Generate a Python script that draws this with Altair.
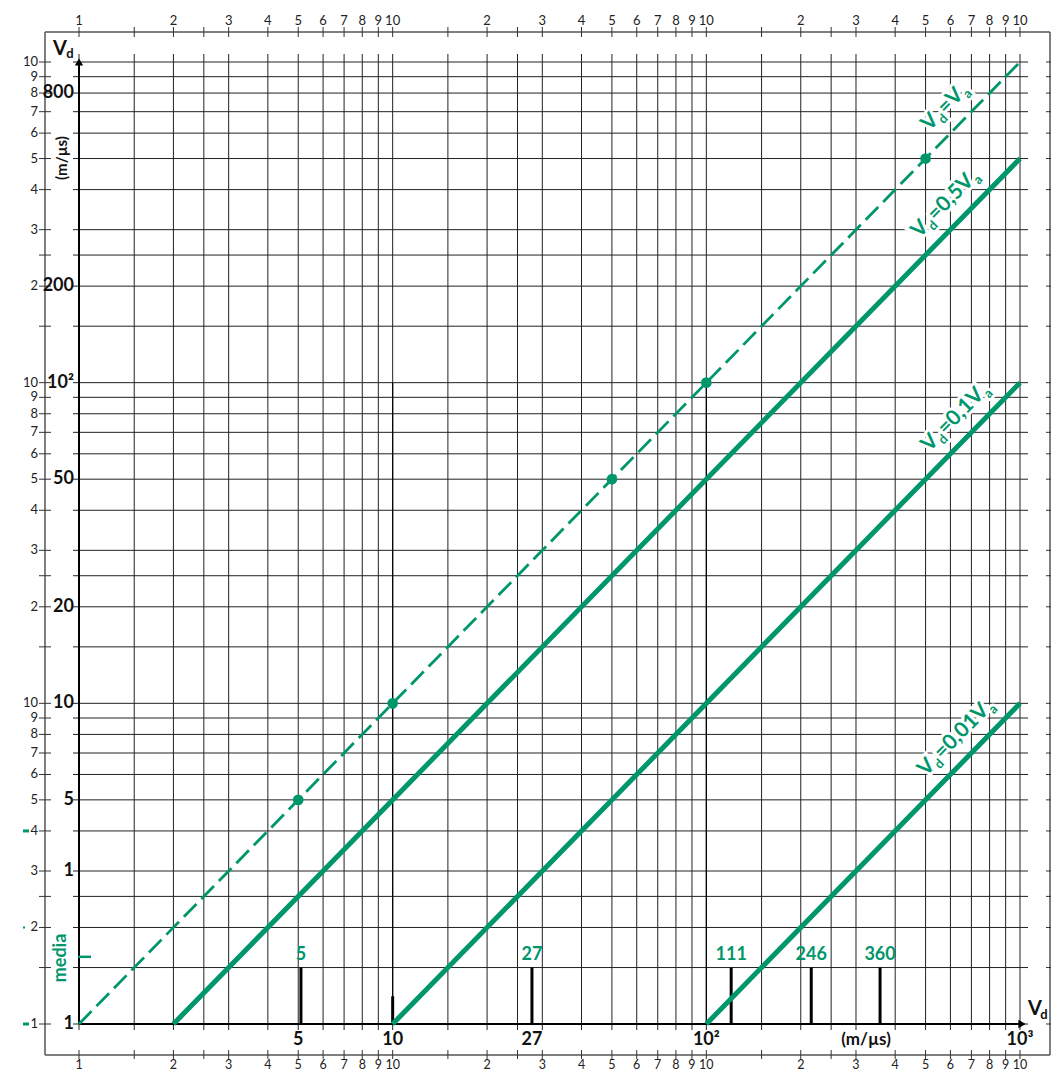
import math
import altair as alt
import pandas as pd

GREEN = "#00966c"
FONT = "Lato"

# ---------------- data ----------------
mantissas = [1, 1.5, 2, 2.5, 3, 4, 5, 6, 7, 8, 9]
grid_values = [m * 10 ** d for d in range(3) for m in mantissas] + [1000]
label_values = [m * 10 ** d for d in range(3) for m in range(1, 10)] + [1000]
label_texts = (["1"] + [str(m) for m in range(2, 10)]
               + (["10"] + [str(m) for m in range(2, 10)]) * 2 + ["10"])

ratios = [1, 0.5, 0.1, 0.01]
line_x_start = [1, 2, 10, 100]
line_x_end = [1000, 1000, 1000, 1000]

dot_x = [5, 10, 50, 100, 500]
dot_y = [5, 10, 50, 100, 500]

bar_x = [5.1, 10, 27.8, 120, 216, 358]
bar_top = [1.5, 1.22, 1.5, 1.5, 1.5, 1.5]
bar_label_x = [5.1, 27.8, 120, 216, 358]
bar_label_text = ["5", "27", "111", "246", "360"]

bold_y_values = [1, 3, 5, 10, 20, 50, 100, 200, 800]
bold_y_text = ["1", "1", "5", "10", "20", "50", "10²", "200", "800"]
bold_x_values = [5, 10, 27.8, 100, 1000]
bold_x_text = ["5", "10", "27", "10²", "10³"]

drop_x = [10, 100]
drop_top = [100, 100]

media_value = 1.62
green_dash_values = [4, 1]
green_dot_values = [2]

label_anchor_x = [560, 520, 560, 545]
label_mid_text = ["=V", "=0,5V", "=0,1V", "=0,01V"]

# ---------------- layout ----------------
W, H = 941, 962
xs = alt.Scale(type="log", domain=[1, 1000], nice=False)
ys = alt.Scale(type="log", domain=[1, 1000], nice=False)


def X(f):
    return alt.X(f"{f}:Q", scale=xs, axis=None)


def Y(f):
    return alt.Y(f"{f}:Q", scale=ys, axis=None)


one = pd.DataFrame({"a": [0]})
gdf = pd.DataFrame({"v": grid_values})
ldf = pd.DataFrame({"v": label_values, "t": label_texts})

layers = []
GRID = "#222222"
FRAME = "#555555"

# grid
layers.append(alt.Chart(gdf).mark_rule(color=GRID, strokeWidth=1).encode(
    x=X("v"), y=alt.value(-8), y2=alt.value(H + 6)))
layers.append(alt.Chart(gdf).mark_rule(color=GRID, strokeWidth=1).encode(
    y=Y("v"), x=alt.value(-6), x2=alt.value(W + 8)))

# frame
FL, FT, FR, FB = -34, -30, 971, 993
layers.append(alt.Chart(one).mark_rule(color=FRAME, strokeWidth=1.5).encode(
    x=alt.value(FL), y=alt.value(FT), y2=alt.value(FB)))
layers.append(alt.Chart(one).mark_rule(color=FRAME, strokeWidth=1.5).encode(
    x=alt.value(FR), y=alt.value(FT), y2=alt.value(FB)))
layers.append(alt.Chart(one).mark_rule(color=FRAME, strokeWidth=1.5).encode(
    y=alt.value(FT), x=alt.value(FL), x2=alt.value(FR)))
layers.append(alt.Chart(one).mark_rule(color=FRAME, strokeWidth=1.5).encode(
    y=alt.value(FB), x=alt.value(FL), x2=alt.value(FR)))

# frame ticks
layers.append(alt.Chart(gdf).mark_rule(color="#333", strokeWidth=1).encode(
    x=X("v"), y=alt.value(FT - 5), y2=alt.value(FT + 5)))
layers.append(alt.Chart(gdf).mark_rule(color="#333", strokeWidth=1).encode(
    x=X("v"), y=alt.value(FB - 5), y2=alt.value(FB + 4)))
layers.append(alt.Chart(gdf).mark_rule(color="#333", strokeWidth=1).encode(
    y=Y("v"), x=alt.value(FL - 6), x2=alt.value(FL + 6)))
layers.append(alt.Chart(gdf).mark_rule(color="#333", strokeWidth=1).encode(
    y=Y("v"), x=alt.value(FR - 4), x2=alt.value(FR + 1)))

# frame labels
layers.append(alt.Chart(ldf).mark_text(font=FONT, fontSize=13, color="#222", baseline="alphabetic").encode(
    x=X("v"), y=alt.value(FT - 7), text="t:N"))
layers.append(alt.Chart(ldf).mark_text(font=FONT, fontSize=12.5, color="#222", baseline="alphabetic").encode(
    x=X("v"), y=alt.value(FB + 14), text="t:N"))
layers.append(alt.Chart(ldf).mark_text(font=FONT, fontSize=13, color="#222", baseline="middle", align="right").encode(
    y=Y("v"), x=alt.value(FL - 7), text="t:N"))

# drop lines and bars
ddf = pd.DataFrame({"x": drop_x, "top": drop_top, "b": [1] * len(drop_x)})
layers.append(alt.Chart(ddf).mark_rule(color="black", strokeWidth=1.2).encode(
    x=X("x"), y=Y("top"), y2="b:Q"))
bdf = pd.DataFrame({"x": bar_x, "top": bar_top, "b": [1] * len(bar_x)})
layers.append(alt.Chart(bdf).mark_rule(color="black", strokeWidth=3).encode(
    x=X("x"), y=Y("top"), y2="b:Q"))

# axis arrows
layers.append(alt.Chart(one).mark_rule(color="black", strokeWidth=2).encode(
    x=alt.value(0), y=alt.value(H), y2=alt.value(-2)))
layers.append(alt.Chart(one).mark_point(shape="triangle-up", filled=True, size=70, color="black", opacity=1).encode(
    x=alt.value(0), y=alt.value(0)))
layers.append(alt.Chart(one).mark_rule(color="black", strokeWidth=2).encode(
    y=alt.value(H), x=alt.value(0), x2=alt.value(W + 2)))
layers.append(alt.Chart(one).mark_point(shape="triangle-right", filled=True, size=70, color="black", opacity=1).encode(
    x=alt.value(W + 2), y=alt.value(H)))

# ratio lines
rows = []
for r, xa, xb in zip(ratios, line_x_start, line_x_end):
    rows.append({"s": str(r), "x": xa, "y": r * xa, "o": 0})
    rows.append({"s": str(r), "x": xb, "y": r * xb, "o": 1})
rdf = pd.DataFrame(rows)
layers.append(alt.Chart(rdf[rdf.s != "1"]).mark_line(color=GREEN, strokeWidth=5, strokeCap="butt").encode(
    x=X("x"), y=Y("y"), detail="s:N", order="o:Q"))
layers.append(alt.Chart(rdf[rdf.s == "1"]).mark_line(color=GREEN, strokeWidth=2.8, strokeDash=[18, 7]).encode(
    x=X("x"), y=Y("y"), order="o:Q"))

layers.append(alt.Chart(pd.DataFrame({"x": dot_x, "y": dot_y})).mark_circle(size=115, color=GREEN, opacity=1).encode(
    x=X("x"), y=Y("y")))

# line labels
angle = 360 - math.degrees(math.atan((H / 3) / (W / 3)))
CW = {"V": 0.66, "d": 0.57, "a": 0.52, "=": 0.58, ",": 0.24}
MAIN, SUB = 21, 13
MAIN_DY, SUB_DY = -16, -11


def tw(s, size):
    return sum(CW.get(c, 0.58) for c in s) * size


for r, ax, mid in zip(ratios, label_anchor_x, label_mid_text):
    adf = pd.DataFrame({"x": [ax], "y": [r * ax]})
    pieces = [("V", False), ("d", True), (mid, False), ("a", True)]
    off = 0.0
    for txt, sub in pieces:
        size = SUB if sub else MAIN
        dy = SUB_DY if sub else MAIN_DY
        for halo in (True, False):
            kw = dict(font=FONT, fontSize=size, fontWeight="bold", align="left", baseline="alphabetic",
                      angle=angle, dx=off, dy=dy, text=txt)
            if halo:
                kw.update(color="white", stroke="white", strokeWidth=6)
            else:
                kw.update(color=GREEN)
            layers.append(alt.Chart(adf).mark_text(**kw).encode(x=X("x"), y=Y("y")))
        off += tw(txt, size) + 1

# green bar labels
layers.append(alt.Chart(pd.DataFrame({"x": bar_label_x, "t": bar_label_text})).mark_text(
    font=FONT, fontSize=18, fontWeight="bold", color=GREEN, baseline="middle").encode(
    x=X("x"), y=alt.value(893), text="t:N"))

# bold labels
layers.append(alt.Chart(pd.DataFrame({"x": bold_x_values, "t": bold_x_text})).mark_text(
    font=FONT, fontSize=18, fontWeight="bold", color="#111", baseline="middle").encode(
    x=X("x"), y=alt.value(978), text="t:N"))
layers.append(alt.Chart(pd.DataFrame({"y": bold_y_values, "t": bold_y_text})).mark_text(
    font=FONT, fontSize=18, fontWeight="bold", color="#111", baseline="middle", align="right").encode(
    y=Y("y"), x=alt.value(-5), text="t:N"))

# unit / axis titles
layers.append(alt.Chart(one).mark_text(font=FONT, fontSize=17, fontWeight="bold", color="#111",
                                       baseline="middle", text="(m/µs)").encode(
    x=alt.value(787), y=alt.value(978)))
layers.append(alt.Chart(one).mark_text(font=FONT, fontSize=15, fontWeight="bold", color="#111",
                                       baseline="middle", angle=270, text="(m/µs)").encode(
    x=alt.value(-17), y=alt.value(96)))
layers.append(alt.Chart(one).mark_text(font=FONT, fontSize=20, fontWeight="bold", color="#111",
                                       baseline="alphabetic", text="V").encode(
    x=alt.value(-19), y=alt.value(-7)))
layers.append(alt.Chart(one).mark_text(font=FONT, fontSize=13, fontWeight="bold", color="#111",
                                       baseline="alphabetic", text="d").encode(
    x=alt.value(-9), y=alt.value(-4)))
layers.append(alt.Chart(one).mark_text(font=FONT, fontSize=20, fontWeight="bold", color="#111",
                                       baseline="alphabetic", text="V").encode(
    x=alt.value(956), y=alt.value(953)))
layers.append(alt.Chart(one).mark_text(font=FONT, fontSize=13, fontWeight="bold", color="#111",
                                       baseline="alphabetic", text="d").encode(
    x=alt.value(965), y=alt.value(957)))

# media marker
layers.append(alt.Chart(one).mark_text(font=FONT, fontSize=18, fontWeight="bold", color=GREEN,
                                       baseline="middle", angle=270, text="media").encode(
    x=alt.value(-18), y=alt.value(896)))
layers.append(alt.Chart(pd.DataFrame({"y": [media_value]})).mark_rule(color=GREEN, strokeWidth=2.5).encode(
    y=Y("y"), x=alt.value(-1), x2=alt.value(12)))
layers.append(alt.Chart(pd.DataFrame({"y": green_dash_values})).mark_rule(color=GREEN, strokeWidth=3).encode(
    y=Y("y"), x=alt.value(-56), x2=alt.value(-50)))
layers.append(alt.Chart(pd.DataFrame({"y": green_dot_values})).mark_rule(color=GREEN, strokeWidth=2).encode(
    y=Y("y"), x=alt.value(-56), x2=alt.value(-54)))

chart = alt.layer(*layers).properties(
    width=W, height=H,
    autosize=alt.AutoSizeParams(type="none"),
    padding={"left": 71, "top": 54, "right": 31, "bottom": 48},
).configure_view(strokeWidth=0)

chart.save("out.html", embed_options={"renderer": "svg", "actions": False})
